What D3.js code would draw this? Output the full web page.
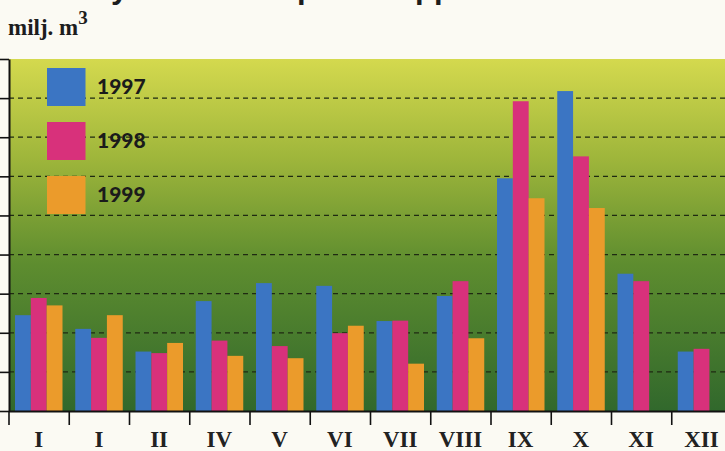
<!DOCTYPE html>
<html>
<head>
<meta charset="utf-8">
<script src="https://cdn.jsdelivr.net/npm/d3@7"></script>
<style>
  body { margin: 0; background: #fbfaf3; }
  svg { display: block; }
  .month-labels text { font-family: 'Liberation Serif', serif; font-weight: bold; font-size: 23px; fill: #222; }
  .legend text { font-family: Lato, sans-serif; font-weight: 900; font-size: 21px; fill: #1b1b1b; }
</style>
</head>
<body>
<div id="chart"></div>
<script>
// month labels as printed on the chart
var months = ['I', 'I', 'II', 'IV', 'V', 'VI', 'VII', 'VIII', 'IX', 'X', 'XI', 'XII'];
var years = ['1997', '1998', '1999'];
var v1997 = [24.5, 21.0, 15.2, 28.1, 32.7, 32.0, 23.0, 29.4, 59.5, 81.8, 35.1, 15.2];
var v1998 = [28.9, 18.7, 14.8, 18.0, 16.6, 19.9, 23.1, 33.2, 79.2, 65.1, 33.2, 15.9];
var v1999 = [27.0, 24.5, 17.4, 14.1, 13.5, 21.8, 12.1, 18.6, 54.4, 51.9, null, null];
var yTicks = [0, 10, 20, 30, 40, 50, 60, 70, 80, 90];
var colors = ['#3b75c3', '#d8317b', '#eb9b2b'];

var series = [v1997, v1998, v1999];
var width = 725, height = 451;
var plot = { left: 9, top: 59, bottom: 411, right: 725 };
var step = 60.25;

var svg = d3.select('#chart').append('svg')
  .attr('width', width)
  .attr('height', height);

// background gradient
var grad = svg.append('defs').append('linearGradient')
  .attr('id', 'bg').attr('x1', 0).attr('y1', 0).attr('x2', 0).attr('y2', 1);
grad.append('stop').attr('offset', '0%').attr('stop-color', '#d4d94e');
grad.append('stop').attr('offset', '28%').attr('stop-color', '#9fb63b');
grad.append('stop').attr('offset', '58%').attr('stop-color', '#5e8d2f');
grad.append('stop').attr('offset', '100%').attr('stop-color', '#31682c');

svg.append('rect')
  .attr('x', plot.left).attr('y', plot.top)
  .attr('width', plot.right - plot.left)
  .attr('height', plot.bottom - plot.top)
  .attr('fill', 'url(#bg)');

// scales
var x0 = d3.scaleBand()
  .domain(d3.range(months.length))
  .range([8.5, 8.5 + step * months.length])
  .padding(0);
var x1 = d3.scaleBand()
  .domain(d3.range(years.length))
  .range([6.5, 54]);
var xEdge = d3.scaleLinear()
  .domain([0, months.length])
  .range(x0.range());
var y = d3.scaleLinear().domain([0, 90]).range([plot.bottom, plot.top]);

// dashed grid lines
svg.append('g')
  .selectAll('line')
  .data(yTicks.filter(function(d) { return d > 0 && d < 90; }))
  .enter().append('line')
  .attr('x1', plot.left).attr('x2', plot.right)
  .attr('y1', function(d) { return y(d); })
  .attr('y2', function(d) { return y(d); })
  .attr('stroke', '#1f2a12')
  .attr('stroke-width', 1.2)
  .attr('stroke-dasharray', '5,4');

// bars
var groups = svg.append('g').selectAll('g')
  .data(months)
  .enter().append('g')
  .attr('transform', function(d, i) { return 'translate(' + x0(i) + ',0)'; });

groups.selectAll('rect')
  .data(function(d, i) {
    return series.map(function(s, k) { return { k: k, value: s[i] }; })
      .filter(function(b) { return b.value != null; });
  })
  .enter().append('rect')
  .attr('x', function(d) { return x1(d.k); })
  .attr('width', x1.bandwidth())
  .attr('y', function(d) { return y(d.value); })
  .attr('height', function(d) { return y(0) - y(d.value); })
  .attr('fill', function(d) { return colors[d.k]; });

// left axis: ticks only
svg.append('g')
  .attr('transform', 'translate(' + plot.left + ',0)')
  .call(d3.axisLeft(y).tickValues(yTicks).tickSize(9).tickSizeOuter(0).tickFormat(''))
  .call(function(g) {
    g.select('.domain').attr('stroke', '#111').attr('stroke-width', 2);
    g.selectAll('.tick line').attr('stroke', '#111').attr('stroke-width', 1.6);
  });

// bottom axis: ticks at month boundaries
svg.append('g')
  .attr('transform', 'translate(0,' + plot.bottom + ')')
  .call(d3.axisBottom(xEdge).tickValues(d3.range(months.length + 1)).tickSize(14).tickSizeOuter(0).tickFormat(''))
  .call(function(g) {
    g.select('.domain').attr('stroke', '#111').attr('stroke-width', 2.2);
    g.selectAll('.tick line').attr('stroke', '#111').attr('stroke-width', 1.6);
  });

// month labels
svg.append('g')
  .attr('class', 'month-labels')
  .attr('transform', 'translate(0,' + plot.bottom + ')')
  .call(d3.axisBottom(x0).tickSize(0).tickPadding(0).tickFormat(function(i) { return months[i]; }))
  .call(function(g) {
    g.select('.domain').remove();
    g.selectAll('text').attr('dy', null).attr('y', 36).attr('font-family', null).attr('font-size', null);
  });

// legend
var legend = svg.append('g').attr('class', 'legend')
  .selectAll('g')
  .data(years)
  .enter().append('g')
  .attr('transform', function(d, i) { return 'translate(47,' + (68 + i * 54) + ')'; });
legend.append('rect')
  .attr('width', 38.5).attr('height', 38)
  .attr('fill', function(d, i) { return colors[i]; });
legend.append('text')
  .attr('x', 50).attr('y', 26)
  .text(function(d) { return d; });

// unit label
var unit = svg.append('text')
  .attr('x', 8).attr('y', 35)
  .attr('font-family', 'Liberation Serif, serif')
  .attr('font-weight', 'bold')
  .attr('font-size', 23)
  .attr('fill', '#1d1d1d')
  .text('milj. m');
unit.append('tspan')
  .attr('dy', -11)
  .attr('font-size', 19)
  .text('3');

// cropped title (only descenders visible at the top edge)
svg.append('g')
  .selectAll('text')
  .data([{ t: 'y', x: 111 }, { t: 'p', x: 297 }, { t: 'pp', x: 415 }])
  .enter().append('text')
  .attr('x', function(d) { return d.x; })
  .attr('y', -2)
  .attr('font-family', 'Liberation Sans, sans-serif')
  .attr('font-weight', 'bold')
  .attr('font-size', 31)
  .attr('fill', '#1d1d1d')
  .text(function(d) { return d.t; });
</script>
</body>
</html>
